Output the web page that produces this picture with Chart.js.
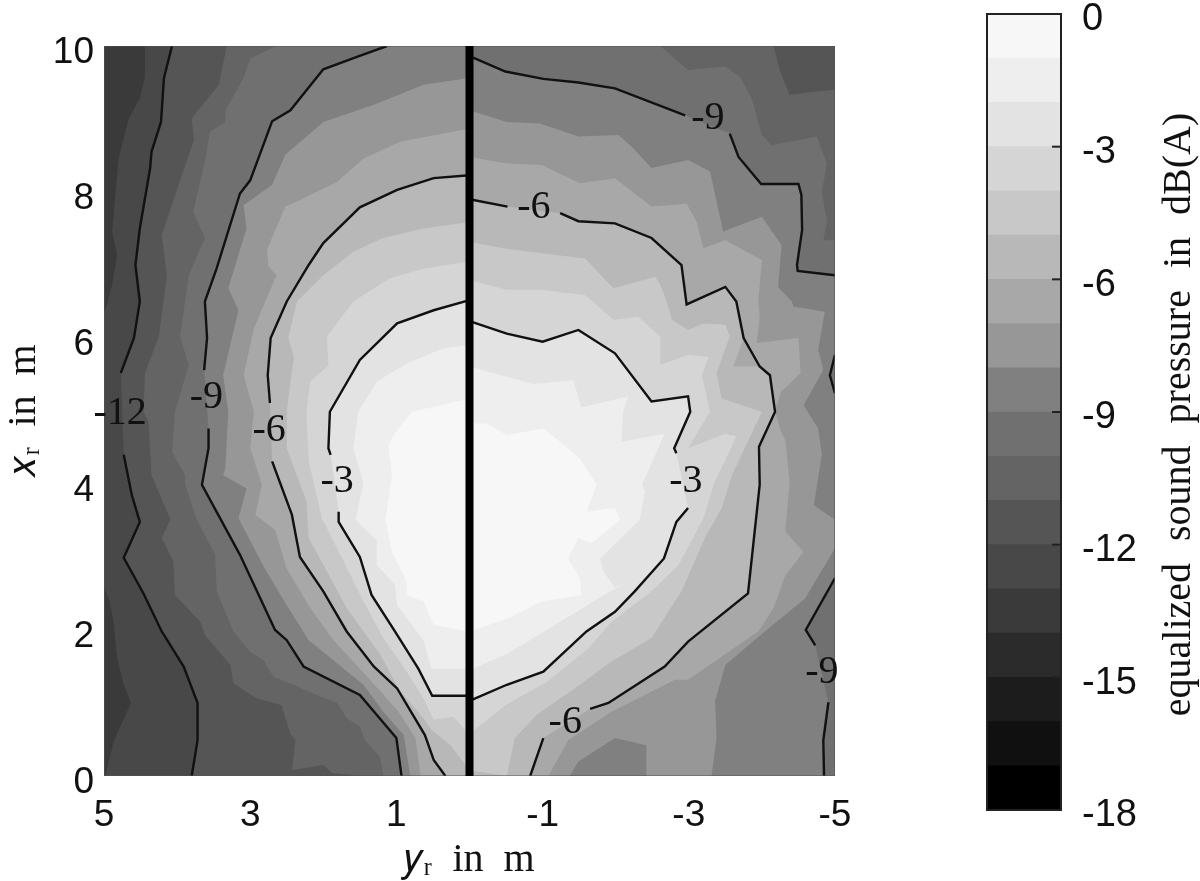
<!DOCTYPE html>
<html><head><meta charset="utf-8">
<script src="https://cdn.jsdelivr.net/npm/chart.js@4"></script>
<style>
html,body{margin:0;padding:0;background:#fff;width:1200px;height:881px;overflow:hidden}
canvas{position:absolute;top:0}
#main{left:0}#bar{left:900px}
</style></head><body>
<canvas id="main" width="900" height="881"></canvas>
<canvas id="bar" width="300" height="881"></canvas>
<script>
// Axis ticks and labels
const yrTicks=[5,3,1,-1,-3,-5];
const xrTicks=[0,2,4,6,8,10];
const barTicks=[-18,-15,-12,-9,-6,-3,0];
const yrTitle='𝑦ᵣ  in  m', xrTitle='𝑥ᵣ  in  m', barTitle='equalized sound pressure in dB(A)';
// Colour bar: lower edge of each 1 dB band and its grey
const bandLows=[-18,-17,-16,-15,-14,-13,-12,-11,-10,-9,-8,-7,-6,-5,-4,-3,-2,-1];
const bandGreys=['#000000','#101010','#1c1c1c','#2b2b2b','#3a3a3a','#484848','#555555','#646464','#707070','#808080','#979797','#a8a8a8','#b8b8b8','#c8c8c8','#d5d5d5','#e3e3e3','#eeeeee','#f7f7f7'];
// Contour lines [y_r, x_r] in m; null = gap for a label
const c12L=[[4.07,10],[4.18,9.56],[4.22,8.96],[4.35,8.55],[4.37,8.32],[4.51,7.5],[4.57,7],[4.51,6.5],[4.59,6],[4.77,5.52],null,[4.73,4.4],[4.62,3.85],[4.51,3.48],[4.73,2.99],[4.46,2.5],[4.21,1.98],[3.91,1.5],[3.72,1],[3.72,.49],[3.8,0]];
const c9L=[[1.13,10],[1.54,9.85],[2,9.68],[2.45,9.12],[2.7,8.97],[3,8.16],[3.14,7.98],[3.46,6.95],[3.62,6.5],[3.59,6],[3.63,5.56],null,[3.57,4.76],[3.57,4.49],[3.66,3.99],[3.14,3.03],[2.66,2],[2.5,1.86],[2.27,1.5],[1.5,1.11],[1,.52],[.93,0]];
const c9RTop=[[-.05,9.84],[-.49,9.65],[-1.01,9.55],[-1.49,9.5],[-1.99,9.42],[-2.95,9.05],null,[-3.56,8.8],[-3.68,8.48],[-3.99,8.11],[-4.5,8.11],[-4.54,7.96],[-4.55,7.48],[-4.48,7],[-4.49,6.92],[-5,6.86]];
const c9RNotch=[[-5,5.77],[-4.93,5.49],[-5,5.24]];
const c9RLow=[[-5,2.71],[-4.6,2],[-4.73,1.79],null,[-4.91,1.01],[-4.84,.49],[-4.85,0]];
const c6L=[[0,8.23],[.49,8.19],[.99,8.03],[1.5,7.79],[2,7.3],[2.2,7],[2.5,6.5],[2.72,6],[2.76,5.49],[2.73,5.11],null,[2.7,4.31],[2.43,3.58],[2.32,3],[2,2.53],[1.68,1.98],[1.31,1.5],[.99,1.2],[.61,.56],[.49,.22],[.33,0]];
const c6RLow=[[-.83,0],[-1.01,.52],null,[-1.65,.92],[-1.9,1],[-2.67,1.5],[-2.99,1.84],[-3.81,2.5],[-3.97,3.99],[-3.96,4.51],[-4.18,4.99],[-4.11,5.49],[-3.97,5.61]];
const c6RUp=[[-3.75,6],[-3.65,6.5],[-3.5,6.7],[-2.97,6.46],[-2.9,7],[-2.49,7.37],[-1.99,7.57],[-1.49,7.6],[-1.24,7.71],null,[-.52,7.8],[0,7.9]];
const c3L=[[0,6.52],[.49,6.38],[.99,6.2],[1.5,5.7],[1.91,4.99],[1.93,4.49],[1.9,4.4],null,[1.79,3.62],[1.79,3.48],[1.5,3],[1.34,2.48],[1.02,1.98],[.7,1.47],[.51,1.1],[0,1.1]];
const c3R=[[0,1.03],[-.51,1.25],[-1.01,1.43],[-1.6,1.98],[-1.99,2.25],[-2.26,2.53],[-2.66,2.98],[-2.83,3.48],[-2.99,3.67],null,[-2.83,4.42],[-2.8,4.49],[-3.02,4.99],[-2.99,5.2],[-2.49,5.13],[-1.99,5.79],[-1.49,6.11],[-1,5.95],[-.51,6.06],[0,6.23]];
// Filled band outlines [y_r, x_r] in m that carry no contour line
const f13=[[4.44,10],[4.44,9.58],[4.51,9.28],[4.66,9.01],[4.8,8.46],[4.89,7.46],[4.82,7.14],[4.89,6.73],[4.96,6.45],[5,6.36],[5,2.59],[4.92,2.39],[4.87,2.11],[4.82,1.61],[4.73,1.25],[4.63,1],[4.87,.47],[4.98,0],[-5,0],[-5,10]];
const f11=[[3.32,10],[3.43,9.47],[3.8,9.01],[3.77,8.71],[3.87,8.42],[4.12,7.68],[4.21,7.41],[4.14,6.86],[4.25,6.02],[4.44,5.52],[4.46,4.99],[4.39,4.85],[4.35,4.12],[4.09,3.51],[4.21,3.26],[4.05,2.94],[4.03,2.48],[3.68,2.11],[3.62,1.93],[3.27,1.52],[3.23,1.27],[2.91,1.06],[2.57,.97],[2.45,.58],[2.38,.49],[2.43,.08],[2,.15],[1.88,.04],[1.47,0],[-5,0],[-5,9.4],[-4.68,9.37],[-4.38,9.33],[-4.25,9.65],[-4.16,10]];
const f10=[[2.64,10],[3,9.83],[3.09,9.56],[3.34,9.12],[3.34,8.96],[3.55,8.83],[3.62,8.42],[3.78,7.73],[3.62,7.37],[3.84,6.86],[3.96,6.02],[3.84,5.63],[4.03,4.99],[4.07,4.44],[3.89,4.12],[3.89,3.99],[3.73,3.51],[3.48,3.03],[3.46,2.53],[3.23,1.98],[3,1.7],[2.82,1.59],[2.68,1.36],[2.41,1.25],[2.09,1.11],[1.81,1],[1.68,.79],[1.5,.68],[1.43,.49],[1.22,.26],[1.18,0],[-5,0],[-5,7.34],[-4.84,7.34],[-4.89,7.59],[-4.82,8],[-4.89,8.39],[-4.75,8.76],[-4.13,8.64],[-4,8.78],[-3.86,9.28],[-3.7,9.58],[-3.5,9.72],[-2.99,9.67],[-2.61,10]];
const f8=[[0,9.56],[.63,9.47],[1.27,9.21],[2,8.96],[2.52,8.51],[2.7,8.1],[3.09,7.82],[3.05,7.5],[3.3,6.68],[3.16,6.38],[3.37,5.49],[3.3,4.99],[3.34,4.21],[3.37,4.12],[3.05,3.94],[3.16,3.53],[2.8,2.84],[2.5,2.34],[2.2,1.86],[2,1.7],[1.72,1.47],[1.45,1.25],[1.18,.88],[.9,.56],[.81,0],[-1.37,0],[-1.49,.2],[-1.99,.52],[-2.42,.42],[-2.42,0],[-3.31,0],[-3.38,.52],[-3.36,1.03],[-3.5,1.52],[-4.04,1.98],[-4.59,2.43],[-5,3.12],[-5,3.51],[-4.71,3.71],[-4.82,4.4],[-4.77,4.76],[-4.57,5.08],[-4.84,5.56],[-4.77,5.84],[-4.86,6.36],[-4.43,6.43],[-4.41,6.5],[-4.22,6.7],[-4.27,7.27],[-4,7.66],[-3.47,7.46],[-3.29,8.28],[-2.99,8.44],[-2.49,8.33],[-2.24,8.6],[-2.04,8.78],[-1.49,8.76],[-.96,8.94],[-.51,8.96],[0,9.12]];
const f7=[[0,8.87],[.95,8.69],[1.45,8.46],[1.81,8.14],[2.36,7.87],[2.52,7.8],[2.77,7.21],[2.75,6.98],[2.64,6.86],[2.95,6.13],[3.09,5.49],[2.95,4.99],[3,4.49],[2.84,3.99],[2.93,3.58],[2.66,3.37],[2.5,2.84],[2.18,2.3],[1.86,1.86],[1.5,1.47],[1.22,1.16],[.97,.88],[.74,.52],[.67,0],[-1.08,0],[-1.35,.49],[-1.94,.88],[-2.81,1.32],[-2.99,1.32],[-3.95,1.98],[-4.16,2.3],[-4.32,2.75],[-4.57,3.07],[-4.32,3.35],[-4.38,4.03],[-4.32,4.6],[-4.25,4.74],[-4.18,5.01],[-4.26,5.26],[-4.53,5.52],[-4.5,6],[-3.93,5.93],[-3.97,6.29],[-3.95,6.5],[-4,7.07],[-3.5,7.34],[-3.2,7.23],[-3.11,7.59],[-2.97,7.84],[-2.49,7.8],[-1.99,8.19],[-1.51,8.12],[-.99,8.37],[-.51,8.39],[0,8.48]];
const f5=[[0,7.59],[.63,7.5],[1.18,7.37],[1.59,7.18],[2,6.86],[2.36,6.5],[2.48,6],[2.4,5.74],[2.45,5.4],[2.5,4.99],[2.5,4.49],[2.23,3.76],[2.2,3.26],[1.95,2.8],[1.68,2.3],[1.22,1.66],[.95,1.16],[.63,.79],[.52,.63],[.26,.42],[0,.08],[-.51,0],[-.62,.52],[-.92,.84],[-1.44,1.2],[-1.94,1.57],[-2.49,1.89],[-2.9,2.53],[-3.22,3.26],[-3.45,3.67],[-3.59,4.12],[-4,4.99],[-3.45,5.17],[-3.38,5.52],[-3.56,6.02],[-3.5,6.18],[-3.2,6.2],[-2.99,6.11],[-2.77,6.25],[-2.7,6.5],[-2.61,6.73],[-2.54,6.84],[-1.97,6.68],[-1.58,7.09],[-1.15,7.14],[-.46,7.23],[0,7.32]];
const f4=[[0,7.05],[.63,6.95],[1.09,6.82],[1.59,6.5],[1.95,6.02],[1.93,5.63],[2.18,5.4],[2.23,4.99],[2.2,4.31],[2.02,3.53],[1.72,2.94],[1.47,2.43],[1.18,1.89],[.86,1.43],[.63,1.06],[.49,.77],[.22,.81],[0,.56],[0,.58],[-.49,.97],[-1.06,1.29],[-1.63,1.75],[-1.94,2.11],[-2.49,2.53],[-2.86,2.89],[-3.2,3.53],[-3.34,3.99],[-3.65,4.65],[-3.5,4.69],[-2.99,4.49],[-3.29,4.99],[-3.18,5.49],[-3.27,5.74],[-2.99,5.77],[-2.61,5.63],[-2.61,6.02],[-2.31,6.29],[-1.97,6.25],[-1.58,6.59],[-.96,6.66],[-.51,6.66],[0,6.79]];
const f2=[[0,5.9],[.36,5.86],[.86,5.65],[1.27,5.4],[1.52,4.99],[1.59,4.49],[1.45,4.01],[1.56,3.51],[1.27,3.23],[1.27,2.89],[1.02,2.62],[.99,2.34],[.63,1.86],[.52,1.47],[0,1.47],[0,1.45],[-.53,1.68],[-1.17,2.07],[-1.76,2.43],[-2.13,2.64],[-1.99,2.58],[-1.83,2.8],[-1.79,2.98],[-2.33,3.51],[-2.4,3.9],[-2.36,3.99],[-2.67,4.69],[-2.08,4.58],[-2.1,4.99],[-2.17,5.2],[-1.53,5.05],[-1.42,5.42],[-.87,5.37],[0,5.61]];
const f1=[[0,5.17],[.79,4.99],[1.04,4.67],[1.11,4.51],[1.06,4.12],[1.15,3.51],[1.06,3.07],[.86,2.66],[.86,2.48],[.63,2.39],[.49,2.07],[0,1.98],[-.53,2.16],[-.99,2.39],[-1.53,2.48],[-1.51,2.71],[-1.35,2.98],[-1.49,3.26],[-1.67,3.19],[-2.06,3.51],[-1.99,3.67],[-1.6,3.62],[-1.74,3.99],[-1.51,4.35],[-1.35,4.49],[-1.01,4.76],[-.51,4.67],[-.23,4.83],[0,4.83]];
const plotCorners=[[5,0],[5,10],[-5,10],[-5,0]];
// In-line contour labels
const labelTexts=['-12','-9','-6','-3','-9','-6','-3','-6','-9'];
const labelY=[4.78,3.6,2.74,1.81,-3.26,-.88,-2.96,-1.31,-4.82];
const labelX=[4.97,5.18,4.73,4.03,9.01,7.79,4.04,.73,1.42];
// Divider along y_r = 0
const divider=[[0,0],[0,10]];

const SANS='"Liberation Sans",Arial,sans-serif', SERIF='"Liberation Serif",serif';
const solid=a=>a.filter(Boolean);
const rev=a=>solid(a).slice().reverse();
const f14=plotCorners;
const f12=[...solid(c12L),[-5,0],[-5,10]];
const f9=[...solid(c9L),...rev(c9RLow),...rev(c9RNotch),...rev(c9RTop),[0,10]];
const f6=[...solid(c6L),...solid(c6RLow),[-3.61,5.61],...solid(c6RUp)];
const f3=[...solid(c3L),...solid(c3R)];
const toXY=a=>a.map(p=>p?{x:p[0],y:p[1]}:{x:NaN,y:NaN});
const greyOf=low=>bandGreys[bandLows.indexOf(low)];
const fills=[[f14,-14],[f13,-13],[f12,-12],[f11,-11],[f10,-10],[f9,-9],[f8,-8],[f7,-7],[f6,-6],[f5,-5],[f4,-4],[f3,-3],[f2,-2],[f1,-1]];
const ds=[];
fills.forEach(([poly,low],i)=>ds.push({label:'band '+low,data:toXY(poly),order:100-i,fill:'shape',backgroundColor:greyOf(low),borderWidth:0,pointRadius:0,tension:0,showLine:true}));
[c12L,c9L,c9RTop,c9RNotch,c9RLow,c6L,[...c6RLow,...c6RUp],c3L,c3R].forEach((c,i)=>ds.push({label:'contour '+i,data:toXY(c),order:5,fill:false,borderColor:'#111',borderWidth:2.4,pointRadius:0,tension:0,spanGaps:false,borderJoinStyle:'miter'}));
ds.push({label:'frame',data:toXY([...plotCorners,plotCorners[0]]),order:3,fill:false,borderColor:'#555',borderWidth:1.2,pointRadius:0,tension:0});
ds.push({label:'divider',data:toXY(divider),order:1,fill:false,borderColor:'#000',borderWidth:8,pointRadius:0,tension:0});

const labelPlugin={id:'contourLabels',afterDatasetsDraw(c){
  const g=c.ctx;g.save();g.font='40px '+SERIF;g.fillStyle='#111';g.textAlign='center';g.textBaseline='middle';
  labelTexts.forEach((t,i)=>g.fillText(t,c.scales.x.getPixelForValue(labelY[i]),c.scales.y.getPixelForValue(labelX[i])));
  g.restore();}};

new Chart(document.getElementById('main'),{type:'line',data:{datasets:ds},plugins:[labelPlugin],options:{
  responsive:false,animation:false,events:[],
  layout:{padding:{top:46,right:65,left:0,bottom:0}},
  plugins:{legend:{display:false},tooltip:{enabled:false},filler:{propagate:false}},
  scales:{
    x:{type:'linear',min:-5,max:5,reverse:true,afterFit:s=>{s.height=105},afterBuildTicks:s=>{s.ticks=yrTicks.map(v=>({value:v}))},
      grid:{display:false},border:{display:false},
      ticks:{color:'#111',font:{family:SANS,size:37},padding:10,maxRotation:0,autoSkip:false,callback:v=>String(v)},
      title:{display:true,text:yrTitle,color:'#111',font:{family:SERIF,size:40},padding:{top:0,bottom:-3}}},
    y:{type:'linear',min:0,max:10,afterFit:s=>{s.width=104},afterBuildTicks:s=>{s.ticks=xrTicks.map(v=>({value:v}))},
      grid:{display:false},border:{display:false},
      ticks:{color:'#111',font:{family:SANS,size:37},padding:2,labelOffset:7,autoSkip:false,callback:v=>String(v)},
      title:{display:true,text:xrTitle,color:'#111',font:{family:SERIF,size:40},padding:{top:0,bottom:0}}}
  }}});

const barPlugin={id:'barFrame',afterDatasetsDraw(c){
  const g=c.ctx,a=c.chartArea,y=c.scales.y;g.save();g.strokeStyle='#222';g.lineWidth=2;
  g.strokeRect(a.left,a.top,a.width,a.height);
  barTicks.slice(1,-1).forEach(v=>{const p=y.getPixelForValue(v);g.beginPath();g.moveTo(a.right-9,p);g.lineTo(a.right,p);g.stroke();});
  g.restore();g.save();
  g.font='40px '+SERIF;g.wordSpacing='12px';g.fillStyle='#111';g.textAlign='center';g.textBaseline='alphabetic';
  g.translate(290,414.5);g.rotate(-Math.PI/2);g.fillText(barTitle,0,0);g.restore();}};

new Chart(document.getElementById('bar'),{type:'bar',
  data:{labels:[''],datasets:bandLows.map((low,i)=>({label:low+' dB',data:[[low,low+1]],backgroundColor:bandGreys[i],borderWidth:0,stack:'cb',barPercentage:1,categoryPercentage:1}))},
  plugins:[barPlugin],
  options:{responsive:false,animation:false,events:[],
    layout:{padding:{left:87,top:14,bottom:71,right:0}},
    plugins:{legend:{display:false},tooltip:{enabled:false}},
    scales:{
      x:{display:false,stacked:true},
      y:{position:'right',stacked:false,min:-18,max:0,afterFit:s=>{s.width=139;s.paddingTop=0;s.paddingBottom=0},afterBuildTicks:s=>{s.ticks=barTicks.map(v=>({value:v}))},
        grid:{display:false},border:{display:false},
        ticks:{color:'#111',font:{family:SANS,size:38},padding:13,labelOffset:6,autoSkip:false,callback:v=>String(v)}}
    }}});
</script>
</body></html>
